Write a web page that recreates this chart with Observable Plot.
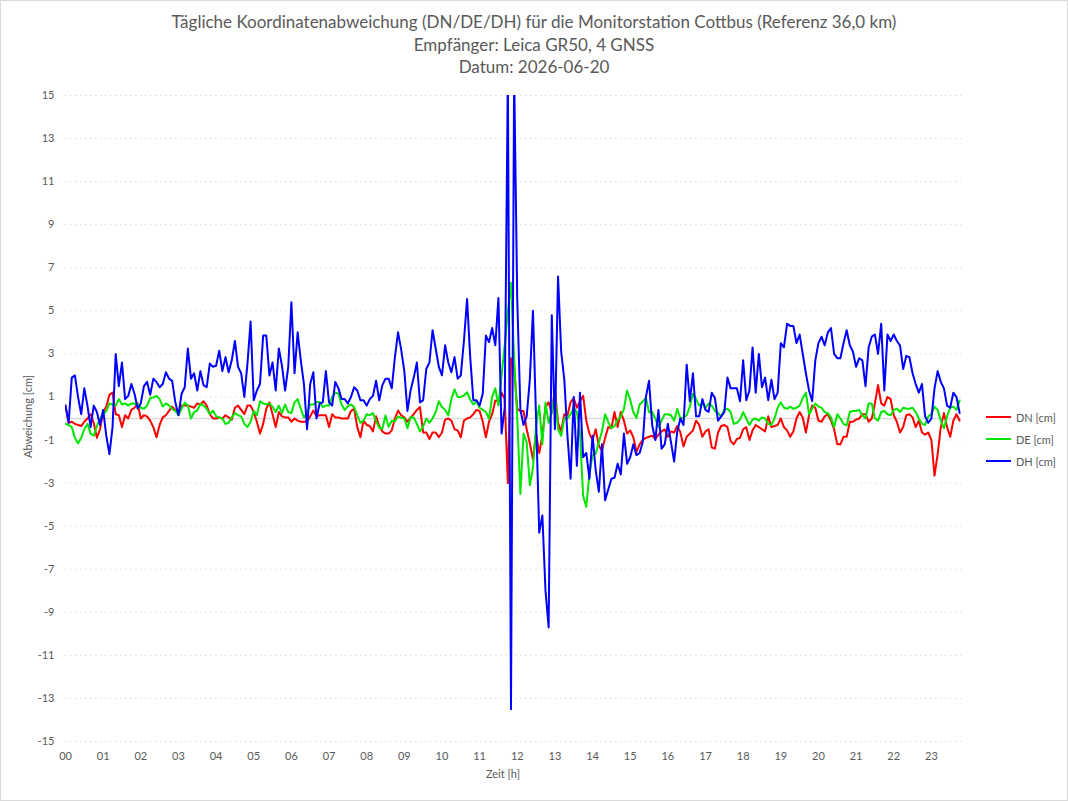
<!DOCTYPE html>
<html>
<head>
<meta charset="utf-8">
<script src="https://cdn.jsdelivr.net/npm/d3@7"></script>
<script src="https://cdn.jsdelivr.net/npm/@observablehq/plot@0.6"></script>
<style>
  body { margin: 0; background: #fff; }
  #chart { position: relative; width: 1068px; height: 801px; font-family: Lato, "Open Sans", sans-serif; color: #595959; overflow: hidden; }
  #frame { position: absolute; left: 0; top: 0; width: 1066px; height: 799px; border: 1px solid #d9d9d9; pointer-events: none; }
  #title { position: absolute; left: 0; top: 11px; width: 1068px; text-align: center; font-size: 17px; line-height: 22.5px; }
  #plot { position: absolute; left: 0; top: 0; }
  #xlabel { position: absolute; left: 453px; width: 100px; top: 767px; text-align: center; font-size: 11px; }
  #ylabel { position: absolute; left: -23px; top: 410px; width: 100px; text-align: center; font-size: 11px; transform: rotate(-90deg); }
  #legend { position: absolute; left: 986px; top: 406px; font-size: 11px; }
  .item { display: flex; align-items: center; height: 22px; }
  .swatch { display: inline-block; width: 25px; height: 2px; margin-right: 5px; }
</style>
</head>
<body>
<div id="chart">
  <div id="plot"></div>
  <div id="title"></div>
  <div id="xlabel"></div>
  <div id="ylabel"></div>
  <div id="legend"></div>
  <div id="frame"></div>
</div>
<script>
// ---- texts ----
const titleLines = [
  "Tägliche Koordinatenabweichung (DN/DE/DH) für die Monitorstation Cottbus (Referenz 36,0 km)",
  "Empfänger: Leica GR50, 4 GNSS",
  "Datum: 2026-06-20"
];
const xAxisLabel = "Zeit [h]";
const yAxisLabel = "Abweichung [cm]";

// ---- axes ----
const hourTicks = d3.range(0, 24);
const hourLabels = ["00","01","02","03","04","05","06","07","08","09","10","11","12","13","14","15","16","17","18","19","20","21","22","23"];
const yTicks = [-15,-13,-11,-9,-7,-5,-3,-1,1,3,5,7,9,11,13,15];
const sampleStepHours = 5 / 60; // one value every 5 minutes, starting at 00:00

// ---- series (cm), 5-minute samples ----
const seriesNames = ["DN [cm]", "DE [cm]", "DH [cm]"];
const seriesColors = ["#ff0000", "#00e600", "#0000ff"];

const DN = [
  0.6,-0.2,-0.15,-0.25,-0.3,-0.35,-0.15,0.0,0.2,-0.2,-0.9,-0.5,
  0.3,0.55,1.1,1.2,0.2,0.15,-0.4,0.15,0.0,0.4,0.5,0.7,
  0.0,0.15,0.1,-0.1,-0.4,-0.87,-0.3,0.05,0.15,0.35,0.55,0.4,
  0.25,0.6,0.6,0.6,0.55,0.5,0.7,0.65,0.8,0.6,0.2,0.0,
  0.0,0.05,0.0,0.15,0.05,-0.05,0.5,0.6,0.4,0.2,0.6,0.6,
  0.3,-0.15,-0.7,-0.25,0.45,0.75,0.2,-0.4,0.3,0.1,0.05,0.05,
  -0.15,0.0,-0.1,-0.15,-0.15,-0.15,0.1,0.37,0.1,0.15,0.15,0.15,
  -0.4,0.2,0.05,0.05,0.0,0.0,0.0,0.35,0.45,-0.4,-0.87,-0.1,
  -0.3,-0.35,-0.6,0.1,-0.35,-0.6,-0.7,-0.7,-0.55,0.0,0.37,0.15,
  0.05,-0.15,0.05,0.2,0.4,0.53,-0.65,-0.65,-0.95,-0.65,-0.65,-0.87,
  -0.65,-0.05,0.0,-0.1,-0.5,-0.55,-0.87,-0.1,0.0,0.05,0.2,0.4,
  0.35,-0.15,-0.87,-0.15,0.2,0.84,0.8,1.2,0.9,-3.0,2.8,2.3,
  0.45,0.35,0.35,-0.5,-1.15,-1.9,-0.7,-1.6,-0.8,0.55,0.75,0.25,
  1.4,-0.2,-0.6,0.2,0.15,0.75,0.95,0.5,0.8,1.05,-0.1,-0.7,
  -1.0,-0.5,-1.25,-1.5,-0.9,-0.4,-0.45,0.3,-0.4,0.3,-0.1,-0.7,
  -0.55,-0.87,-1.55,-1.2,-1.0,-0.9,-0.85,-0.8,-0.95,-0.75,-0.6,-0.5,
  -0.85,-0.6,-0.65,-0.35,-0.65,-1.3,-0.85,-0.7,-0.55,-0.1,-0.3,-0.85,
  -0.6,-0.5,-1.35,-1.4,-0.65,-0.35,-0.3,-0.4,-1.05,-1.2,-0.95,-0.9,
  -0.5,-0.4,-1.0,-0.55,-0.3,-0.4,-0.5,-0.6,0.1,-0.4,-0.35,-0.3,
  0.0,-0.4,-0.55,-0.85,-0.6,0.0,0.3,0.05,-0.65,0.15,0.6,0.5,
  -0.1,-0.15,0.1,0.2,-0.1,-0.5,-1.2,-1.2,-0.85,-0.85,-0.15,-0.15,
  -0.05,0.0,0.2,0.2,-0.15,0.0,0.7,1.55,0.7,0.6,1.0,0.9,
  0.15,-0.15,-0.65,-0.4,0.15,0.2,0.05,-0.4,-0.1,-0.65,-0.75,-0.65,
  -1.0,-2.65,-1.65,-0.4,0.25,-0.4,-0.85,-0.1,0.2,-0.1
];

const DE = [
  -0.25,-0.3,-0.4,-0.9,-1.15,-0.9,-0.5,-0.25,-0.7,-0.8,-0.35,0.0,
  0.2,0.35,0.7,0.65,0.6,0.9,0.65,0.7,0.6,0.7,0.68,0.68,
  0.5,0.45,0.6,0.95,0.98,1.05,0.9,0.55,0.7,0.6,0.45,0.35,
  0.15,0.45,0.73,0.6,0.0,0.3,0.37,0.68,0.6,0.45,0.2,0.37,
  0.1,0.05,0.0,-0.25,-0.2,0.05,0.25,0.15,0.1,-0.25,-0.4,-0.15,
  0.35,0.15,0.8,0.7,0.65,0.7,0.55,0.3,0.6,0.25,0.65,0.3,
  0.25,0.75,0.9,0.45,0.05,0.25,0.65,0.65,0.77,0.77,0.53,0.6,
  0.6,1.0,1.2,1.15,0.65,0.4,0.58,0.65,0.53,0.15,-0.2,-0.1,
  0.2,0.15,0.25,-0.12,-0.43,-0.48,0.14,-0.38,-0.1,-0.13,0.1,0.03,
  0.0,-0.45,0.06,0.05,-0.25,-0.6,-0.37,0.0,-0.2,0.0,0.3,0.8,
  0.53,0.4,0.15,0.9,1.35,1.0,1.0,1.07,1.22,0.87,0.65,0.8,
  0.5,0.4,0.3,0.0,1.0,1.4,0.6,2.0,3.4,5.0,6.3,2.8,
  0.0,-3.5,-0.7,-1.1,-3.1,-2.3,-0.3,0.6,-1.2,0.74,-0.2,0.3,
  1.2,-0.5,-0.8,0.0,0.0,0.2,0.5,0.3,-0.7,-3.6,-4.1,-2.57,
  -1.7,-1.64,-1.1,-0.6,0.2,-0.16,-0.45,-0.36,-0.05,0.09,0.45,1.3,
  0.87,0.29,0.02,0.65,0.79,0.96,0.29,0.3,0.0,-0.4,-0.1,0.2,
  0.2,0.15,-0.1,0.45,0.0,0.05,0.15,0.55,1.15,0.9,0.6,0.7,
  0.5,0.7,0.6,0.35,0.25,0.1,0.4,0.45,0.3,-0.25,-0.2,-0.05,
  0.3,0.0,-0.3,-0.05,0.0,-0.1,0.05,0.0,-0.25,-0.3,0.0,0.5,
  0.75,0.5,0.45,0.55,0.45,0.5,0.6,0.95,1.2,0.2,0.45,0.7,
  0.55,0.5,0.3,0.25,0.05,-0.4,0.2,0.0,-0.25,-0.32,0.3,0.35,
  0.35,0.4,0.15,0.0,0.7,0.7,0.0,-0.1,0.3,0.35,0.2,0.15,
  0.4,0.45,0.3,0.5,0.45,0.45,0.5,0.3,0.0,-0.25,-0.3,0.1,
  0.2,0.55,0.4,-0.1,-0.45,0.1,0.5,0.55,0.4,0.84
];

const DH = [
  0.6,-0.2,1.9,2.0,1.0,0.2,1.4,0.6,-0.4,0.6,0.3,-0.3,
  0.4,-0.8,-1.65,-0.4,3.0,1.5,2.6,0.9,1.05,1.6,1.15,0.45,
  0.7,1.5,1.7,1.1,1.85,1.7,1.45,1.6,2.15,1.85,1.75,0.75,
  0.15,1.15,1.45,3.25,1.85,2.1,1.3,2.2,1.55,1.45,2.55,2.4,
  2.45,3.15,2.2,2.85,2.15,2.7,3.6,2.4,2.1,1.0,2.55,4.5,
  0.85,1.3,1.6,3.85,3.85,2.0,2.6,1.3,3.25,2.45,1.3,2.4,
  5.4,2.1,4.0,2.7,1.6,-0.5,1.6,2.15,0.0,0.7,0.75,2.2,
  0.75,0.6,1.7,1.4,0.9,0.9,0.7,1.0,1.45,1.3,0.85,0.85,
  0.6,0.9,1.05,1.75,0.85,1.55,1.85,1.85,1.4,2.85,4.0,3.2,
  2.2,0.35,1.3,1.9,2.6,0.75,0.85,2.3,2.6,4.1,3.25,2.4,
  2.0,3.4,2.6,2.15,2.85,1.85,2.0,3.6,5.55,2.85,0.85,0.85,
  0.6,1.15,3.85,3.55,4.2,3.4,5.6,-0.7,0.5,16,-13.5,16,
  5.5,0.4,-0.3,0.1,1.8,5.0,0.0,-5.3,-4.5,-8.0,-9.7,4.8,
  -0.5,6.6,3.1,1.8,-0.8,-2.8,1.0,-2.2,1.2,-1.8,-1.6,-2.8,
  -0.8,-2.4,-3.4,-1.2,-3.8,-3.3,-2.8,-2.75,-2.1,-2.6,-0.7,-2.1,
  -1.8,-1.2,-1.7,-1.6,-1.1,1.0,1.75,-0.3,-1.0,0.4,-1.4,-1.2,
  -0.25,-1.1,-2.0,-0.6,0.0,-0.3,2.5,0.8,2.1,0.1,0.1,0.9,
  0.4,0.3,1.2,0.95,-0.1,0.1,0.3,1.9,1.4,1.4,1.4,0.8,
  2.7,0.85,1.3,3.3,1.2,3.0,1.45,1.9,0.85,1.8,0.9,1.2,
  3.5,3.3,4.4,4.3,4.3,3.5,3.9,3.0,2.1,1.3,0.8,2.7,
  3.5,3.8,3.4,4.0,4.2,3.0,2.8,2.8,3.5,4.1,3.4,3.1,
  2.4,2.8,2.7,1.5,3.3,3.8,3.9,3.0,4.4,1.3,3.9,3.6,
  3.9,3.6,3.4,2.3,2.9,2.85,2.1,1.6,1.2,1.6,0.1,-0.2,
  0.0,1.4,2.2,1.7,1.4,0.6,0.5,1.2,1.0,0.25
];

const seriesValues = [DN, DE, DH];

// ---- build table ----
const rows = [];
seriesValues.forEach((vals, k) => {
  vals.forEach((v, i) => rows.push({ t: i * sampleStepHours, v, s: seriesNames[k] }));
});

const fontFamily = 'Lato, "Open Sans", sans-serif';

const chart = Plot.plot({
  width: 1068,
  height: 801,
  marginLeft: 65,
  marginRight: 107,
  marginTop: 95,
  marginBottom: 60,
  style: { fontFamily, fontSize: "11px", color: "#595959", background: "transparent", overflow: "visible" },
  x: { domain: [0, 23.8], ticks: hourTicks, tickFormat: d => hourLabels[d], tickSize: 0, tickPadding: 11, label: null },
  y: { domain: [-15, 15], ticks: yTicks, tickFormat: d => String(d), tickSize: 0, tickPadding: 11, label: null },
  marks: [
    Plot.ruleY(yTicks, { stroke: "#d9d9d9", strokeOpacity: 1, strokeDasharray: "1.5,3.5", strokeWidth: 1 }),
    Plot.ruleY([0], { stroke: "#d9d9d9", strokeOpacity: 1, strokeWidth: 1.3 }),
    ...seriesNames.map((name, k) =>
      Plot.lineY(rows.filter(r => r.s === name), {
        x: "t", y: "v", stroke: seriesColors[k], strokeWidth: 2, clip: true, strokeLinejoin: "round"
      })
    )
  ]
});
document.getElementById("plot").appendChild(chart);

// ---- texts ----
document.getElementById("title").innerHTML = titleLines.map(l => `<div>${l}</div>`).join("");
document.getElementById("xlabel").textContent = xAxisLabel;
document.getElementById("ylabel").textContent = yAxisLabel;
const legend = document.getElementById("legend");
seriesNames.forEach((name, k) => {
  const item = document.createElement("div");
  item.className = "item";
  item.innerHTML = `<span class="swatch" style="background:${seriesColors[k]}"></span><span>${name}</span>`;
  legend.appendChild(item);
});
</script>
</body>
</html>
